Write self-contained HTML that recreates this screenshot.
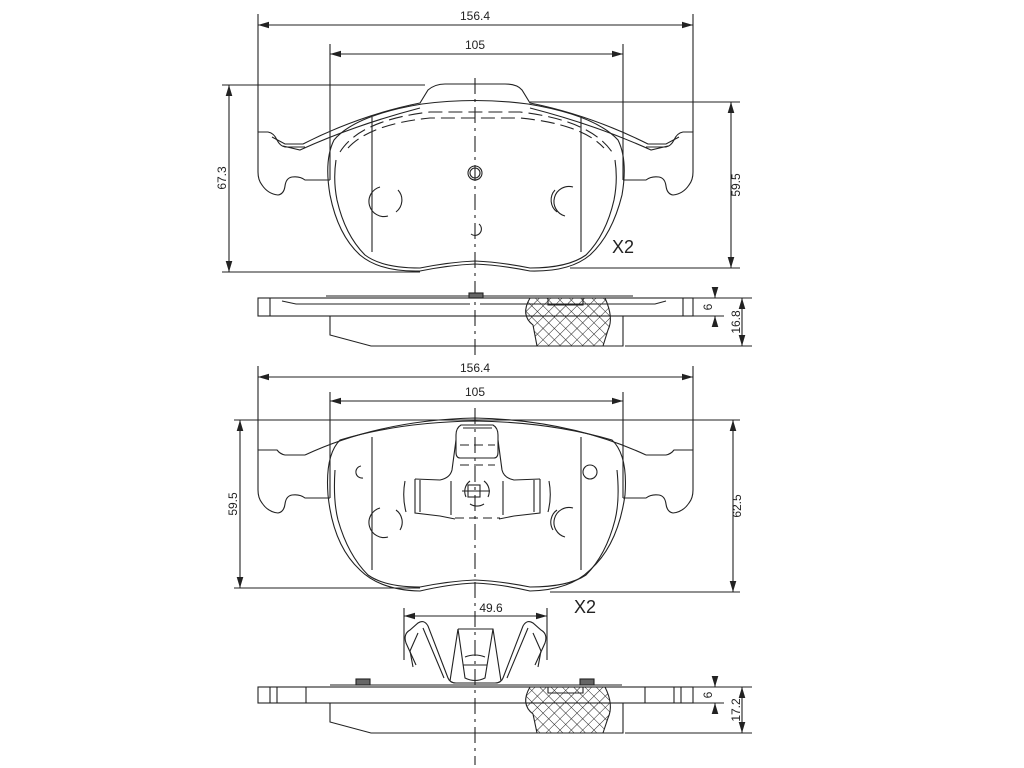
<!DOCTYPE html>
<html><head><meta charset="utf-8"><style>
html,body{margin:0;padding:0;background:#fff}
svg{display:block}
text{font-family:"Liberation Sans",sans-serif;font-size:12px;fill:#222}
</style></head><body>
<svg width="1024" height="768" viewBox="0 0 1024 768" xmlns="http://www.w3.org/2000/svg">
<defs>
<marker id="a" viewBox="0 0 10 6" refX="10" refY="3" markerWidth="10" markerHeight="6" orient="auto-start-reverse"><path d="M0,0 L10,3 L0,6 z" fill="#222"/></marker>
<pattern id="h" width="8" height="8" patternUnits="userSpaceOnUse" patternTransform="rotate(45)"><path d="M0,0 V8 M0,0 H8" stroke="#222" stroke-width="1"/></pattern>
</defs>
<g fill="none" stroke="#222" stroke-width="1.1">
<!-- ===== TOP VIEW 1 dims ===== -->
<path d="M258,14 V132 M693,14 V132 M330,44 V180 M623,44 V180"/>
<line x1="258" y1="25" x2="693" y2="25" marker-start="url(#a)" marker-end="url(#a)"/>
<line x1="330" y1="54" x2="623" y2="54" marker-start="url(#a)" marker-end="url(#a)"/>
<path d="M222,85 H425 M222,272 H420 M530,102 H740 M570,268 H740"/>
<line x1="229" y1="85" x2="229" y2="272" marker-start="url(#a)" marker-end="url(#a)"/>
<line x1="731" y1="102" x2="731" y2="268" marker-start="url(#a)" marker-end="url(#a)"/>
<!-- pad 1 backing plate -->
<path d="M305,147 H285 Q280,146 277,140 Q274,133 268,132 H258 V172 Q258,180 262,185 Q268,194 278,195 Q284,194 285,186 Q286,178 292,177 Q300,176 305,180 H330"/>
<path d="M646,147 H666 Q671,146 674,140 Q677,133 683,132 H693 V172 Q693,180 689,185 Q683,194 673,195 Q667,194 666,186 Q665,178 659,177 Q651,176 646,180 H623"/>
<path d="M272,137 L285,144 L303,144 Q360,115 420,103 L428,90 Q435,84 445,84 H505 Q517,84 522,90 L530,103 Q590,115 648,144 L666,144 L679,137"/>
<path d="M283,146 L300,150 Q355,125 420,108 M668,146 L651,150 Q596,125 530,108"/>
<!-- friction outline -->
<path d="M422,104 Q475,97 528,104 Q595,115 618,140 Q628,160 622,195 Q612,235 590,255 Q570,272 530,271 Q500,265 475,264 Q450,265 420,271 Q380,272 360,255 Q338,235 330,195 Q324,160 334,140 Q355,115 422,104 Z"/>
<path d="M336,160 Q333,180 337,200 Q345,235 365,255 Q382,268 420,268 Q450,262 475,261 Q500,262 530,268 Q568,268 586,255 Q606,235 614,200 Q618,180 615,160"/>
<path d="M340,152 Q360,120 430,112 H520 Q590,120 612,152" stroke-dasharray="14,6"/>
<path d="M348,148 Q370,124 430,118 H520 Q582,124 604,148" stroke-dasharray="14,6"/>
<path d="M372,117 V252 M581,117 V252"/>
<path d="M380,187 A15,15 0 1,0 388,216 M398,190 A15,15 0 0,1 396,212" />
<path d="M573,187 A15,15 0 1,0 565,216 M555,190 A15,15 0 0,0 557,212"/>
<circle cx="475" cy="173" r="7"/><circle cx="475" cy="173" r="5"/>
<path d="M479,224 A6,6 0 1,1 471,234"/>
<line x1="475" y1="78" x2="475" y2="360" stroke-dasharray="16,5,3,5"/>
<!-- side view 1 -->
<rect x="258" y="298" width="435" height="18"/>
<path d="M270,298 V316 M683,298 V316 M326,296 H633 M395,298 H620 M282,301 L296,304 H470 M666,301 L655,304 H480"/>
<rect x="469" y="293" width="14" height="5" fill="#666"/>
<path d="M330,316 V335 L371,346 H623 V316"/>
<path d="M530,298 Q520,315 533,325 L537,346 H603 L608,330 Q614,318 605,298 Z" fill="url(#h)"/>
<path d="M548,298 V305 H583 V298"/>
<path d="M690,298 H752 M693,316 H724 M625,346 H752"/>
<line x1="715" y1="290" x2="715" y2="298" marker-end="url(#a)"/><line x1="715" y1="325" x2="715" y2="316" marker-end="url(#a)"/>
<line x1="742" y1="298" x2="742" y2="346" marker-start="url(#a)" marker-end="url(#a)"/>
<!-- ===== VIEW 2 dims ===== -->
<path d="M258,366 V450 M693,366 V450 M330,392 V498 M623,392 V498"/>
<line x1="258" y1="377" x2="693" y2="377" marker-start="url(#a)" marker-end="url(#a)"/>
<line x1="330" y1="401" x2="623" y2="401" marker-start="url(#a)" marker-end="url(#a)"/>
<path d="M234,420 H740 M234,588 H420 M550,592 H740"/>
<line x1="240" y1="420" x2="240" y2="588" marker-start="url(#a)" marker-end="url(#a)"/>
<line x1="733" y1="420" x2="733" y2="592" marker-start="url(#a)" marker-end="url(#a)"/>
<!-- pad 2 backing -->
<path d="M305,455 H285 Q280,454 277,450 Q274,450 268,450 H258 V490 Q258,498 262,503 Q268,512 278,513 Q284,512 285,504 Q286,496 292,495 Q300,494 305,498 H330"/>
<path d="M646,455 H666 Q671,454 674,450 Q677,450 683,450 H693 V490 Q693,498 689,503 Q683,512 673,513 Q667,512 666,504 Q665,496 659,495 Q651,494 646,498 H623"/>
<path d="M305,455 Q380,420 475,418 Q570,420 646,455"/>
<!-- pad 2 friction -->
<path d="M340,440 Q400,422 475,421 Q550,422 612,440 Q628,455 625,495 Q618,545 590,570 Q570,590 530,591 Q500,584 475,583 Q450,584 420,591 Q380,590 360,570 Q333,545 328,495 Q325,455 340,440 Z"/>
<path d="M335,470 Q333,500 338,520 Q348,555 368,575 Q385,587 420,587 Q450,581 475,580 Q500,581 530,587 Q568,587 586,575 Q606,555 615,520 Q620,500 617,470"/>
<path d="M372,437 V570 M581,437 V570"/>
<path d="M361,466 A6,6 0 1,0 363,478"/><circle cx="590" cy="472" r="7"/>
<path d="M380,508 A15,15 0 1,0 388,537 M396,510 A15,15 0 0,1 400,530"/>
<path d="M573,508 A15,15 0 1,0 565,537 M557,510 A15,15 0 0,0 553,530"/>
<!-- center clip on pad 2 -->
<path d="M461,425 H493 Q498,428 498,435 V452 Q498,458 494,458 H460 Q456,458 456,452 V435 Q456,428 461,425 Z"/>
<path d="M463,428 H492"/>
<path d="M456,440 L452,470 Q450,478 440,480 L415,479 M498,440 L502,470 Q504,478 514,480 L540,479"/>
<path d="M415,479 V513 L440,516 L455,519 M540,479 V513 L514,516 L499,519"/>
<path d="M405,481 Q402,497 406,512 M549,481 Q552,497 548,512 M420,480 V512 M534,480 V512 M451,481 V515 M503,481 V515"/>
<path d="M460,445 H495 M460,465 H495 M455,518 H500" stroke-dasharray="9,5"/>
<rect x="468" y="485" width="12" height="12"/>
<path d="M462,491 H490"/>
<path d="M470,481 A13,13 0 0,0 466,497 M484,481 A13,13 0 0,1 488,497 M470,504 A13,13 0 0,0 484,504"/>
<line x1="475" y1="408" x2="475" y2="765" stroke-dasharray="16,5,3,5"/>
<!-- spring clip -->
<path d="M404,608 V660 M547,608 V660"/>
<line x1="404" y1="616" x2="547" y2="616" marker-start="url(#a)" marker-end="url(#a)"/>
<path d="M416,665 L406,643 Q403,634 410,630 L418,623 Q424,619 428,626 L448,678 Q450,683 456,683 H495 Q501,683 503,678 L523,626 Q527,619 533,623 L541,630 Q548,634 545,643 L535,665"/>
<path d="M413,667 L410,651 L418,633 M538,667 L541,651 L533,633"/>
<path d="M423,628 L444,678 M528,628 L507,678"/>
<path d="M458,629 H493 L501,681 M458,629 L450,681 M458,629 L465,678 Q475,683 485,678 L493,629"/>
<path d="M465,657 Q475,653 485,657 M463,665 H487"/>
<!-- side view 2 -->
<rect x="258" y="687" width="435" height="16"/>
<path d="M270,687 V703 M277,687 V703 M306,687 V703 M645,687 V703 M674,687 V703 M681,687 V703 M330,685 H622"/>
<rect x="356" y="679" width="14" height="6" fill="#666"/><rect x="580" y="679" width="14" height="6" fill="#666"/>
<path d="M330,703 V722 L371,733 H623 V703"/>
<path d="M530,687 Q520,704 533,714 L537,733 H603 L608,718 Q614,705 605,687 Z" fill="url(#h)"/>
<path d="M548,687 V693 H583 V687"/>
<path d="M690,687 H752 M693,703 H724 M625,733 H752"/>
<line x1="715" y1="677" x2="715" y2="687" marker-end="url(#a)"/><line x1="715" y1="713" x2="715" y2="703" marker-end="url(#a)"/>
<line x1="742" y1="687" x2="742" y2="733" marker-start="url(#a)" marker-end="url(#a)"/>
</g>
<!-- texts -->
<text x="475" y="20" text-anchor="middle">156.4</text>
<text x="475" y="49" text-anchor="middle">105</text>
<text transform="translate(226,178) rotate(-90)" text-anchor="middle">67.3</text>
<text transform="translate(740,185) rotate(-90)" text-anchor="middle">59.5</text>
<text x="612" y="253" font-size="18" style="font-size:18px">X2</text>
<text transform="translate(712,307) rotate(-90)" text-anchor="middle">6</text>
<text transform="translate(740,322) rotate(-90)" text-anchor="middle">16.8</text>
<text x="475" y="372" text-anchor="middle">156.4</text>
<text x="475" y="396" text-anchor="middle">105</text>
<text transform="translate(237,504) rotate(-90)" text-anchor="middle">59.5</text>
<text transform="translate(741,506) rotate(-90)" text-anchor="middle">62.5</text>
<text x="574" y="613" style="font-size:18px">X2</text>
<text x="491" y="612" text-anchor="middle">49.6</text>
<text transform="translate(712,695) rotate(-90)" text-anchor="middle">6</text>
<text transform="translate(740,710) rotate(-90)" text-anchor="middle">17.2</text>
</svg>
</body></html>
